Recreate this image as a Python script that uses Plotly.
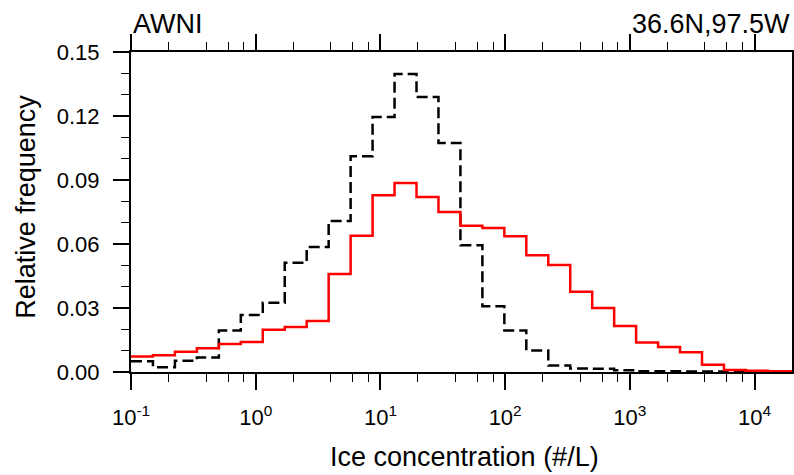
import plotly.graph_objects as go

# Bin edges (#/L), log-spaced with ratio 1.5 starting at 0.1
bin_edges = [0.1, 0.15, 0.225, 0.3375, 0.50625, 0.759375, 1.1390625, 1.708594,
             2.562891, 3.844336, 5.766504, 8.649756, 12.974634, 19.461951,
             29.192926, 43.789389, 65.684084, 98.526125, 147.789188, 221.683782,
             332.525673, 498.788509, 748.182764, 1122.274146, 1683.411219,
             2525.116829, 3787.675243, 5681.512865, 8522.269297, 12783.403946,
             19175.105919, 28762.658879]

# Relative frequency per bin
obs_freq = [0.0050, 0.0022, 0.0053, 0.0068, 0.0194, 0.0267, 0.0325, 0.0512,
            0.0586, 0.0708, 0.1011, 0.1195, 0.1397, 0.1289, 0.1074, 0.0594,
            0.0308, 0.0195, 0.0101, 0.0031, 0.0016, 0.0015, 0.0008, 0.0003,
            0.0003, 0.0002, 0.0002, 0.0001, 0.0001, 0.0001, 0.0001]

model_freq = [0.0073, 0.0078, 0.0095, 0.0111, 0.0131, 0.0141, 0.0198, 0.0211,
              0.0239, 0.0459, 0.0639, 0.0828, 0.0886, 0.0820, 0.0750, 0.0686,
              0.0675, 0.0636, 0.0547, 0.0502, 0.0376, 0.0300, 0.0216, 0.0138,
              0.0117, 0.0093, 0.0034, 0.0009, 0.0006, 0.0003, 0.0002]

x_tickvals = [0.1, 1, 10, 100, 1000, 10000]
x_ticktext = ["10<sup>-1</sup>", "10<sup>0</sup>", "10<sup>1</sup>",
              "10<sup>2</sup>", "10<sup>3</sup>", "10<sup>4</sup>"]
x_minor = [m * d for d in [0.1, 1, 10, 100, 1000, 10000] for m in (2, 4, 6, 8)]

FONT = "Liberation Sans, Arial, sans-serif"

fig = go.Figure()
fig.add_trace(go.Scatter(
    x=bin_edges[:len(obs_freq) + 1], y=obs_freq + [obs_freq[-1]],
    mode="lines", line=dict(shape="hv", color="black", width=2.5, dash="11px,5px"),
    showlegend=False, hoverinfo="skip"))
fig.add_trace(go.Scatter(
    x=bin_edges[:len(model_freq) + 1], y=model_freq + [model_freq[-1]],
    mode="lines", line=dict(shape="hv", color="#ff0000", width=2.5),
    showlegend=False, hoverinfo="skip"))

axis_common = dict(showline=True, linecolor="black", linewidth=2, mirror="allticks",
                   ticks="outside", ticklen=16, tickwidth=1.5, tickcolor="black",
                   showgrid=False, zeroline=False, automargin=False,
                   ticklabelstandoff=9,
                   tickfont=dict(family=FONT, size=22, color="black"))

fig.update_xaxes(type="log", range=[-1, 4.30], tickmode="array",
                 tickvals=x_tickvals, ticktext=x_ticktext,
                 minor=dict(tickmode="array", tickvals=x_minor, ticks="outside",
                            ticklen=8, tickwidth=1.2, tickcolor="black", showgrid=False),
                 **axis_common)
fig.update_yaxes(range=[0, 0.15], tickmode="linear", tick0=0, dtick=0.03,
                 tickformat=".2f",
                 minor=dict(tickmode="linear", dtick=0.01, ticks="outside",
                            ticklen=8, tickwidth=1.2, tickcolor="black", showgrid=False),
                 **axis_common)

annos = [
    dict(text="AWNI", x=0, y=1.0875, xanchor="left", yanchor="middle"),
    dict(text="36.6N,97.5W", x=1, y=1.0875, xanchor="right", yanchor="middle"),
    dict(text="Ice concentration (#/L)", x=0.505, y=-0.265, xanchor="center", yanchor="middle"),
    dict(text="Relative frequency", x=-0.160, y=0.517, xanchor="center", yanchor="middle",
         textangle=-90),
]
for a in annos:
    fig.add_annotation(xref="paper", yref="paper", showarrow=False,
                       font=dict(family=FONT, size=27, color="black"), **a)

fig.update_layout(width=794, height=475, margin=dict(l=131, r=2, t=52, b=103),
                  paper_bgcolor="white", plot_bgcolor="white")

fig.write_html("out.html")
